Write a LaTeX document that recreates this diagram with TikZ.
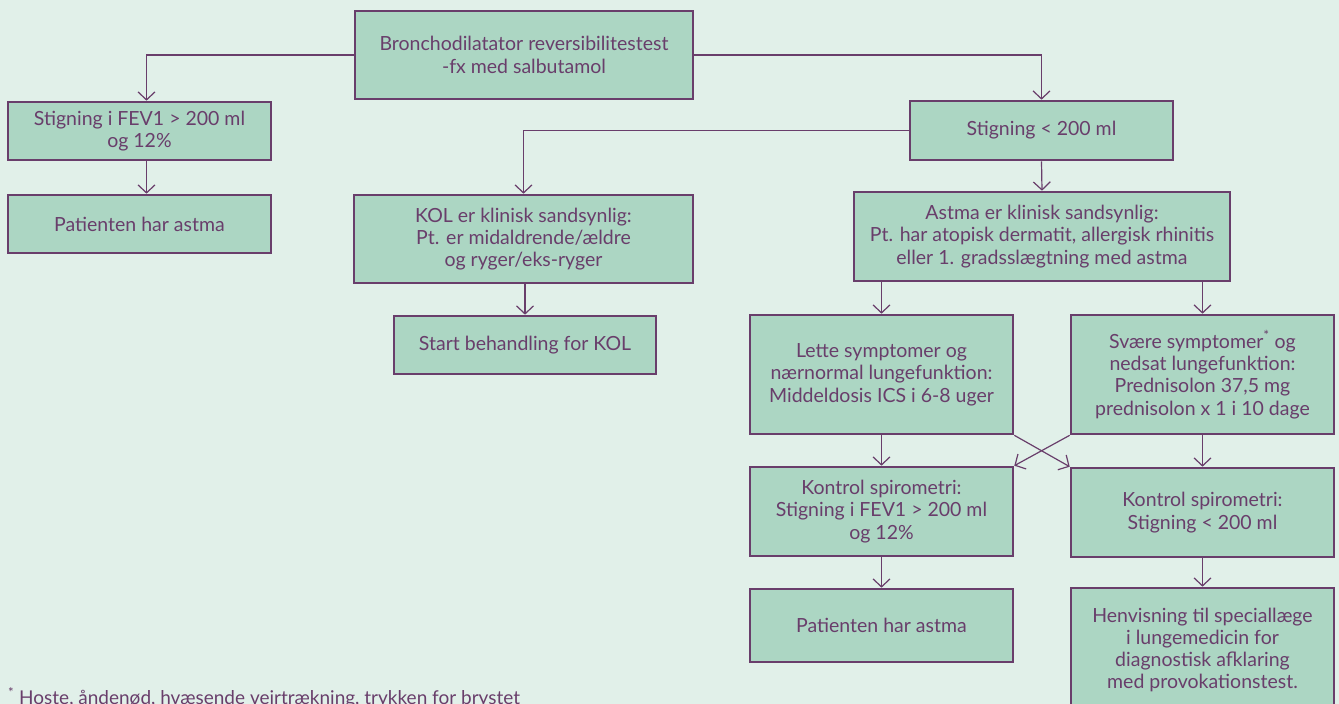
\documentclass[tikz,border=0pt]{standalone}
\usepackage{fontspec}
\setmainfont{Lato}
\usetikzlibrary{arrows.meta,calc}
\definecolor{bgc}{HTML}{E1F0E9}
\definecolor{boxc}{HTML}{ACD6C3}
\definecolor{purp}{HTML}{693E6B}
\begin{document}
\begin{tikzpicture}[x=1pt,y=-1pt,
  flowbox/.style={draw=purp,fill=boxc,line width=2.6pt,text=purp,align=center,
    font=\fontsize{19.5}{22.3}\selectfont,inner sep=0pt},
  arr/.style={draw=purp,line width=1.2pt,-{Straight Barb[length=8pt,width=17pt,line width=1.2pt]}}]
\fill[bgc] (0,0) rectangle (1339,704);
\useasboundingbox (0,0) rectangle (1339,704);
% boxes
\node[flowbox,minimum width=338pt,minimum height=88pt] (top) at (524,55) {Bronchodilatator reversibilitestest\\-fx med salbutamol};
\node[flowbox,minimum width=263pt,minimum height=58pt] (B) at (139.5,131) {Stigning i FEV1 > 200 ml\\og 12\%};
\node[flowbox,minimum width=263pt,minimum height=58pt] (C) at (139.5,224) {Patienten har astma};
\node[flowbox,minimum width=263pt,minimum height=59pt] (D) at (1041.5,130.5) {Stigning < 200 ml};
\node[flowbox,minimum width=339pt,minimum height=88pt] (kol) at (523.5,239) {KOL er klinisk sandsynlig:\\Pt. er midaldrende/ældre\\og ryger/eks-ryger};
\node[flowbox,minimum width=376pt,minimum height=89pt] (E) at (1042,236.5) {Astma er klinisk sandsynlig:\\Pt. har atopisk dermatit, allergisk rhinitis\\eller 1. gradsslægtning med astma};
\node[flowbox,minimum width=262pt,minimum height=58pt] (start) at (525,345) {Start behandling for KOL};
\node[flowbox,minimum width=263pt,minimum height=119pt] (F) at (881.5,374.5) {Lette symptomer og\\nærnormal lungefunktion:\\Middeldosis ICS i 6-8 uger};
\node[flowbox,minimum width=263pt,minimum height=119pt] (G) at (1202.5,374.5) {Svære symptomer\textsuperscript{*} og\\nedsat lungefunktion:\\Prednisolon 37,5 mg\\prednisolon x 1 i 10 dage};
\node[flowbox,minimum width=263pt,minimum height=89pt] (H) at (881.5,511.5) {Kontrol spirometri:\\Stigning i FEV1 > 200 ml\\og 12\%};
\node[flowbox,minimum width=263pt,minimum height=89pt] (I) at (1202.5,512.5) {Kontrol spirometri:\\Stigning < 200 ml};
\node[flowbox,minimum width=263pt,minimum height=73pt] (J) at (881.5,625.5) {Patienten har astma};
\node[flowbox,minimum width=263pt,minimum height=124pt] (K) at (1202.5,650) {Henvisning til speciallæge\\i lungemedicin for\\diagnostisk afklaring\\med provokationstest.};
\node[anchor=base west,text=purp,font=\fontsize{19}{22}\selectfont,inner sep=0pt] (fn) at (8,704) {\textsuperscript{*} Hoste, åndenød, hvæsende vejrtrækning, trykken for brystet};
% connectors
\coordinate (bIn) at ([xshift=7pt]B.north);
\draw[arr] (top.west) -| (bIn);
\draw[arr] (top.east) -| (D.north);
\draw[arr] (B.south -| bIn) -- (bIn |- C.north);
\draw[arr] (D.west) -| (kol.north);
\draw[arr] (D.south) -- (E.north);
\draw[arr] (kol.south -| start.north) -- (start.north);
\draw[arr] (E.south -| F.north) -- (F.north);
\draw[arr] (E.south -| G.north) -- (G.north);
\draw[arr] (F.south) -- (H.north);
\draw[arr] (G.south) -- (I.north);
\draw[arr] (F.south east) -- (I.north west);
\draw[arr] (G.south west) -- (H.north east);
\draw[arr] (H.south) -- (J.north);
\draw[arr] (I.south) -- (K.north);
\end{tikzpicture}
\end{document}
